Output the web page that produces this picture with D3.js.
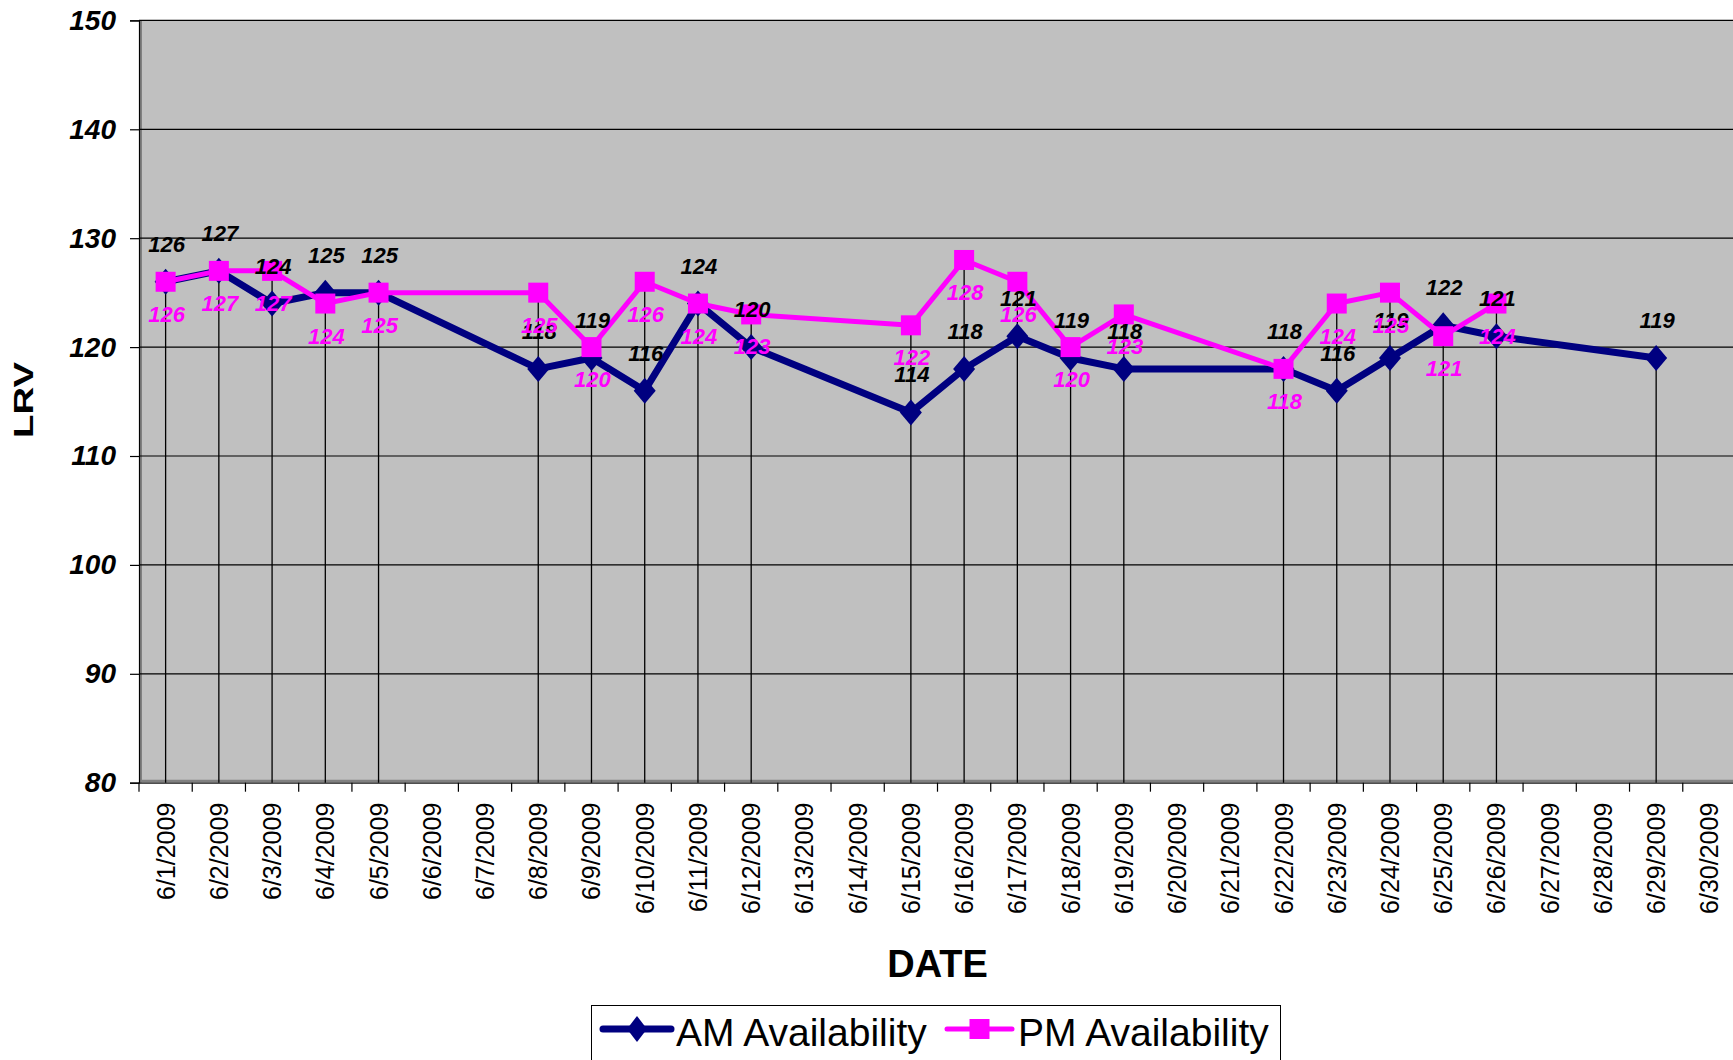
<!DOCTYPE html>
<html>
<head>
<meta charset="utf-8">
<script src="https://cdn.jsdelivr.net/npm/d3@7"></script>
<style>
  html, body { margin: 0; padding: 0; background: #fff; }
  svg { display: block; }
  text { font-family: Arial, "Liberation Sans", sans-serif; }
</style>
</head>
<body>
<svg id="chart" width="1733" height="1060"></svg>
<script>
// ---- data ----
const categories = ["6/1/2009","6/2/2009","6/3/2009","6/4/2009","6/5/2009","6/6/2009","6/7/2009","6/8/2009","6/9/2009","6/10/2009",
  "6/11/2009","6/12/2009","6/13/2009","6/14/2009","6/15/2009","6/16/2009","6/17/2009","6/18/2009","6/19/2009","6/20/2009",
  "6/21/2009","6/22/2009","6/23/2009","6/24/2009","6/25/2009","6/26/2009","6/27/2009","6/28/2009","6/29/2009","6/30/2009"];
const amDates = ["6/1/2009","6/2/2009","6/3/2009","6/4/2009","6/5/2009","6/8/2009","6/9/2009","6/10/2009","6/11/2009","6/12/2009",
  "6/15/2009","6/16/2009","6/17/2009","6/18/2009","6/19/2009","6/22/2009","6/23/2009","6/24/2009","6/25/2009","6/26/2009","6/29/2009"];
const amValues = [126,127,124,125,125,118,119,116,124,120,114,118,121,119,118,118,116,119,122,121,119];
const pmDates = ["6/1/2009","6/2/2009","6/3/2009","6/4/2009","6/5/2009","6/8/2009","6/9/2009","6/10/2009","6/11/2009","6/12/2009",
  "6/15/2009","6/16/2009","6/17/2009","6/18/2009","6/19/2009","6/22/2009","6/23/2009","6/24/2009","6/25/2009","6/26/2009"];
const pmValues = [126,127,127,124,125,125,120,126,124,123,122,128,126,120,123,118,124,125,121,124];
const yTicks = [80,90,100,110,120,130,140,150];
const seriesNames = ["AM Availability","PM Availability"];
const yTitle = "LRV";
const xTitle = "DATE";

// ---- layout ----
const svg = d3.select("#chart");
const L = 139, R = 1736, T = 20.4, B = 782.7;
const x = d3.scaleBand().domain(categories).range([L, R]).padding(0);
const y = d3.scaleLinear().domain([80, 150]).range([B, T]);
const cx = d => x(d) + x.bandwidth() / 2;

const am = amDates.map((d, i) => ({date: d, v: amValues[i]}));
const pm = pmDates.map((d, i) => ({date: d, v: pmValues[i]}));

const AM_COLOR = "#000080", PM_COLOR = "#FF00FF";

// plot area
svg.append("rect").attr("x", L).attr("y", T).attr("width", R - L).attr("height", B - T).attr("fill", "#C0C0C0");
svg.append("line").attr("x1", L + 1.5).attr("x2", L + 1.5).attr("y1", T).attr("y2", B).attr("stroke", "#808080").attr("stroke-width", 3);
svg.append("line").attr("x1", L).attr("x2", R).attr("y1", B - 1.5).attr("y2", B - 1.5).attr("stroke", "#808080").attr("stroke-width", 3);

// gridlines
svg.append("g").selectAll("line").data(yTicks.filter(t => t > 80)).join("line")
  .attr("x1", L).attr("x2", R).attr("y1", d => y(d)).attr("y2", d => y(d))
  .attr("stroke", "#000").attr("stroke-width", 1.2);

// drop lines (from highest point of each category)
const allDates = categories.filter(c => amDates.includes(c) || pmDates.includes(c));
const maxAt = c => d3.max([...am.filter(p => p.date === c), ...pm.filter(p => p.date === c)], p => p.v);
svg.append("g").selectAll("line").data(allDates).join("line")
  .attr("x1", d => cx(d)).attr("x2", d => cx(d))
  .attr("y1", d => y(maxAt(d))).attr("y2", B)
  .attr("stroke", "#000").attr("stroke-width", 1.3);

// y axis
const yAxis = svg.append("g").attr("transform", `translate(${L},0)`)
  .call(d3.axisLeft(y).tickValues(yTicks).tickSize(9).tickPadding(14).tickFormat(d3.format("d")));
yAxis.select(".domain").attr("stroke", "#000").attr("stroke-width", 1.2);
yAxis.selectAll(".tick line").attr("stroke", "#000").attr("stroke-width", 1.2);
yAxis.selectAll(".tick text").attr("font-size", 28).attr("font-weight", "bold").attr("font-style", "italic")
  .attr("fill", "#000").attr("font-family", "Arial, 'Liberation Sans', sans-serif");

// x axis labels
const xAxis = svg.append("g").attr("transform", `translate(0,${B})`)
  .call(d3.axisBottom(x).tickSize(0).tickPadding(0));
xAxis.select(".domain").attr("stroke", "#000").attr("stroke-width", 1);
xAxis.selectAll(".tick text")
  .attr("transform", "rotate(-90)")
  .attr("text-anchor", "end")
  .attr("x", -20).attr("y", 0).attr("dy", "0.36em")
  .attr("font-size", 25).attr("fill", "#000")
  .attr("font-family", "Arial, 'Liberation Sans', sans-serif");
const bounds = categories.map(c => x(c)).concat([x.range()[1]]);
svg.append("g").selectAll("line").data(bounds).join("line")
  .attr("x1", d => d).attr("x2", d => d).attr("y1", B).attr("y2", B + 9)
  .attr("stroke", "#000").attr("stroke-width", 1.2);

// lines
const line = d3.line().x(d => cx(d.date)).y(d => y(d.v));
svg.append("path").datum(am).attr("d", line).attr("fill", "none")
  .attr("stroke", AM_COLOR).attr("stroke-width", 7).attr("stroke-linejoin", "round");
const diamond = (w, h) => `M0,${-h}L${w},0L0,${h}L${-w},0Z`;
svg.append("g").selectAll("path").data(am).join("path")
  .attr("transform", d => `translate(${cx(d.date)},${y(d.v)})`)
  .attr("d", diamond(11, 13)).attr("fill", AM_COLOR);

svg.append("path").datum(pm).attr("d", line).attr("fill", "none")
  .attr("stroke", PM_COLOR).attr("stroke-width", 5).attr("stroke-linejoin", "round");
svg.append("g").selectAll("rect").data(pm).join("rect")
  .attr("x", d => cx(d.date) - 10).attr("y", d => y(d.v) - 10)
  .attr("width", 20).attr("height", 20).attr("fill", PM_COLOR);

// data labels
svg.append("g").selectAll("text").data(am).join("text")
  .attr("x", d => cx(d.date) + 1).attr("y", d => y(d.v) - 30)
  .attr("text-anchor", "middle").attr("font-size", 22).attr("font-weight", "bold").attr("font-style", "italic")
  .attr("fill", "#000").text(d => d.v);
svg.append("g").selectAll("text").data(pm).join("text")
  .attr("x", d => cx(d.date) + 1).attr("y", d => y(d.v) + 40)
  .attr("text-anchor", "middle").attr("font-size", 22).attr("font-weight", "bold").attr("font-style", "italic")
  .attr("fill", PM_COLOR).text(d => d.v);

// axis titles
svg.append("text").attr("transform", `translate(33,400) rotate(-90)`)
  .attr("text-anchor", "middle").attr("font-size", 27).attr("font-weight", "bold")
  .attr("textLength", 76).attr("lengthAdjust", "spacingAndGlyphs").text(yTitle);
svg.append("text").attr("x", (L + R) / 2).attr("y", 977)
  .attr("text-anchor", "middle").attr("font-size", 38).attr("font-weight", "bold").text(xTitle);

// legend
const lg = svg.append("g");
lg.append("rect").attr("x", 591.5).attr("y", 1005.5).attr("width", 689).attr("height", 80)
  .attr("fill", "#fff").attr("stroke", "#000").attr("stroke-width", 1);
const legendItems = [
  {name: seriesNames[0], color: AM_COLOR, x0: 603, x1: 671, tx: 676, w: 7, marker: "diamond"},
  {name: seriesNames[1], color: PM_COLOR, x0: 947, x1: 1012, tx: 1018, w: 5, marker: "square"}
];
legendItems.forEach(it => {
  const ly = 1029;
  lg.append("line").attr("x1", it.x0).attr("x2", it.x1).attr("y1", ly).attr("y2", ly)
    .attr("stroke", it.color).attr("stroke-width", it.w).attr("stroke-linecap", "round");
  const mx = (it.x0 + it.x1) / 2;
  if (it.marker === "diamond") {
    lg.append("path").attr("transform", `translate(${mx},${ly})`).attr("d", diamond(10, 13)).attr("fill", it.color);
  } else {
    lg.append("rect").attr("x", mx - 10).attr("y", ly - 10).attr("width", 20).attr("height", 20).attr("fill", it.color);
  }
  lg.append("text").attr("x", it.tx).attr("y", 1046).attr("font-size", 39).attr("fill", "#000").text(it.name);
});
</script>
</body>
</html>
